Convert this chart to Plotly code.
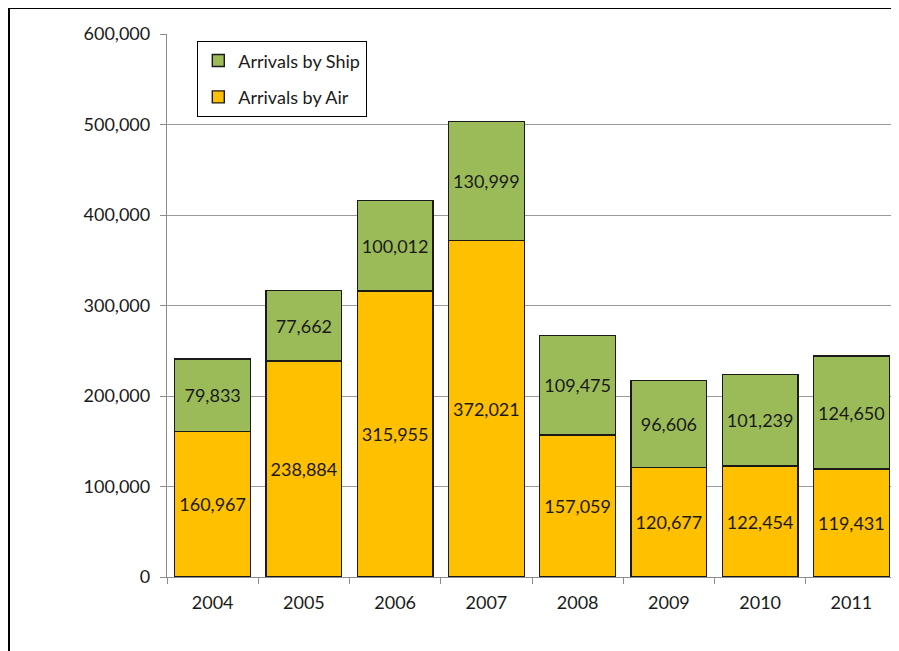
import plotly.graph_objects as go

years = ["2004", "2005", "2006", "2007", "2008", "2009", "2010", "2011"]
air = [160967, 238884, 315955, 372021, 157059, 120677, 122454, 119431]
ship = [79833, 77662, 100012, 130999, 109475, 96606, 101239, 124650]

FONT = "Lato"
TXT = "#1a1a1a"
FS = 18

# page has an 8px body margin: figure coords = page coords - 8
W, H = 891, 643
L, T, R, B = 159, 26, 2, 74
PW = W - L - R
PH = H - T - B

fig = go.Figure()
fig.add_trace(go.Bar(
    x=years, y=air, name="Arrivals by Air", legendgroup="air", legendrank=2,
    marker=dict(color="#FFC000", line=dict(color="#1a1a1a", width=1.4)),
    text=[f"{v:,}" for v in air], textposition="inside", insidetextanchor="middle",
    textangle=0, constraintext="none",
    textfont=dict(family=FONT, size=FS, color=TXT),
))
fig.add_trace(go.Bar(
    x=years, y=ship, name="Arrivals by Ship", legendgroup="ship", legendrank=1,
    marker=dict(color="#9BBB59", line=dict(color="#1a1a1a", width=1.4)),
    text=[f"{v:,}" for v in ship], textposition="inside", insidetextanchor="middle",
    textangle=0, constraintext="none",
    textfont=dict(family=FONT, size=FS, color=TXT),
))

fig.update_layout(
    width=W, height=H,
    margin=dict(l=L, r=R, t=T, b=B),
    barmode="stack", bargap=0.17,
    plot_bgcolor="white", paper_bgcolor="white",
    font=dict(family=FONT, size=FS, color=TXT),
    showlegend=True,
    legend=dict(
        x=30 / PW, y=1 - 7 / PH, xanchor="left", yanchor="top",
        bordercolor="black", borderwidth=1.3, bgcolor="white",
        traceorder="grouped", tracegroupgap=10,
        font=dict(family=FONT, size=FS, color=TXT),
    ),
    xaxis=dict(
        showline=True, linecolor="#8c8c8c", linewidth=1.3,
        ticks="outside", tickson="boundaries", ticklen=6, tickcolor="#8c8c8c",
        tickfont=dict(family=FONT, size=FS, color=TXT),
        ticklabelstandoff=9,
        showgrid=False,
    ),
    yaxis=dict(
        range=[0, 600000], dtick=100000, tickformat=",",
        showline=True, linecolor="#8c8c8c", linewidth=1.3,
        ticks="outside", ticklen=6, tickcolor="#8c8c8c",
        ticklabelstandoff=6,
        showgrid=True, gridcolor="#9a9a9a", gridwidth=1.3,
        tickfont=dict(family=FONT, size=FS, color=TXT),
        zeroline=False,
    ),
    shapes=[
        dict(type="line", xref="paper", yref="paper",
             x0=(1 - L) / PW, x1=(1 - L) / PW,
             y0=1 + T / PH, y1=-0.3, line=dict(color="black", width=2)),
        dict(type="line", xref="paper", yref="paper",
             x0=(0 - L) / PW, x1=1.1,
             y0=1 + T / PH, y1=1 + T / PH, line=dict(color="black", width=2)),
    ],
)

fig.write_html("out.html")
